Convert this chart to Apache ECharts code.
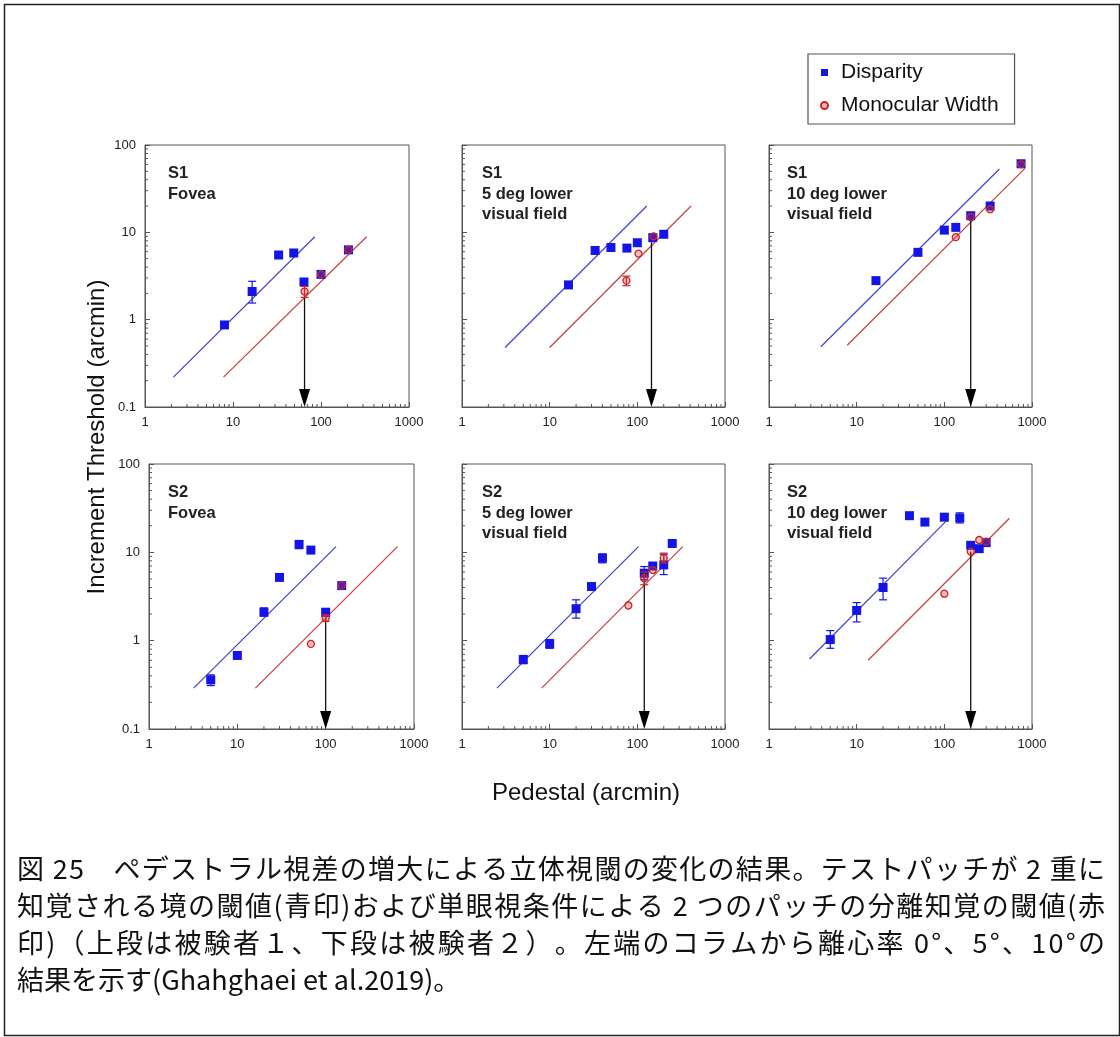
<!DOCTYPE html>
<html><head><meta charset="utf-8">
<script src="https://cdn.jsdelivr.net/npm/echarts@6/dist/echarts.min.js"></script>
<style>html,body{margin:0;padding:0;background:#fff}#c{width:1120px;height:1037px}</style>
</head><body><div id="c"></div>
<script>
// ---------- data ----------
const xTickLabels = ['1', '10', '100', '1000'];
const yTickLabels = ['0.1', '1', '10', '100'];
const panelTitles = [
  ['S1', 'Fovea'], ['S1', '5 deg lower', 'visual field'], ['S1', '10 deg lower', 'visual field'],
  ['S2', 'Fovea'], ['S2', '5 deg lower', 'visual field'], ['S2', '10 deg lower', 'visual field']
];
// [pedestal, threshold]
const s1FoveaDisparity = [[8, 0.87], [16.5, 2.1], [33, 5.5], [49, 5.8], [64, 2.7], [100, 3.3], [205, 6.3]];
const s1FoveaMonocular = [[65, 2.1], [100, 3.3], [205, 6.3]];
const s1Ecc5Disparity = [[16.4, 2.5], [33, 6.2], [50, 6.7], [76, 6.6], [100, 7.6], [150, 8.7], [200, 9.5]];
const s1Ecc5Monocular = [[75, 2.8], [103, 5.7], [153, 9.0]];
const s1Ecc10Disparity = [[16.6, 2.8], [50, 5.9], [100, 10.6], [135, 11.4], [200, 15.5], [333, 20], [750, 61]];
const s1Ecc10Monocular = [[135, 8.8], [200, 15], [333, 18.4], [750, 60]];
const s2FoveaDisparity = [[5, 0.36], [10, 0.68], [20, 2.1], [30, 5.2], [50, 12.3], [68, 10.6], [100, 2.1], [152, 4.2]];
const s2FoveaMonocular = [[68, 0.92], [100, 1.8], [152, 4.2]];
const s2Ecc5Disparity = [[5, 0.61], [10, 0.92], [20, 2.3], [30, 4.1], [40, 8.6], [120, 5.8], [150, 7.0], [200, 7.2], [250, 12.6]];
const s2Ecc5Monocular = [[79, 2.5], [120, 5.1], [150, 6.3], [200, 8.6]];
const s2Ecc10Disparity = [[5, 1.03], [10, 2.2], [20, 4.0], [40, 26], [60, 22], [100, 25], [150, 24.5], [200, 12], [250, 11], [300, 12.9]];
const s2Ecc10Monocular = [[100, 3.4], [200, 10.2], [250, 13.8], [300, 13.2]];
// error bars [pedestal, low, high]
const s1FoveaDispErr = [[16.5, 1.55, 2.75]];
const s1FoveaMonoErr = [[65, 1.8, 2.4]];
const s1Ecc5DispErr = [];
const s1Ecc5MonoErr = [[75, 2.45, 3.15]];
const s1Ecc10DispErr = [[50, 5.5, 6.3]];
const s1Ecc10MonoErr = [];
const s2FoveaDispErr = [[5, 0.31, 0.41], [20, 1.9, 2.35], [50, 11, 13.5], [100, 1.9, 2.3]];
const s2FoveaMonoErr = [[100, 1.65, 1.95]];
const s2Ecc5DispErr = [[5, 0.55, 0.68], [10, 0.82, 1.03], [20, 1.8, 2.9], [40, 7.6, 9.6], [120, 4.9, 6.9], [200, 5.6, 9.5]];
const s2Ecc5MonoErr = [[120, 4.3, 6.0], [200, 7.6, 9.8]];
const s2Ecc10DispErr = [[5, 0.82, 1.3], [10, 1.63, 2.7], [20, 2.9, 5.1], [100, 23, 27], [150, 21.5, 28]];
const s2Ecc10MonoErr = [];
// fitted lines (endpoints)
const s1FoveaDispFit = [[2.1, 0.22], [85, 8.9]];
const s1FoveaMonoFit = [[7.8, 0.22], [330, 8.9]];
const s1Ecc5DispFit = [[3.1, 0.48], [128, 20]];
const s1Ecc5MonoFit = [[10, 0.48], [410, 20]];
const s1Ecc10DispFit = [[3.9, 0.49], [425, 53]];
const s1Ecc10MonoFit = [[7.8, 0.51], [830, 54]];
const s2FoveaDispFit = [[3.2, 0.29], [131, 11.6]];
const s2FoveaMonoFit = [[16, 0.29], [650, 11.6]];
const s2Ecc5DispFit = [[2.5, 0.29], [103, 11.6]];
const s2Ecc5MonoFit = [[8.1, 0.29], [330, 11.6]];
const s2Ecc10DispFit = [[2.9, 0.62], [111, 23.9]];
const s2Ecc10MonoFit = [[13.5, 0.6], [553, 24.3]];
// arrows [pedestal, threshold at start]
const arrowStarts = [[65, 1.9], [145, 8.7], [200, 14], [100, 1.8], [120, 5.0], [200, 10.2]];
const captionLines = [
  '図 25　ペデストラル視差の増大による立体視閾の変化の結果。テストパッチが 2 重に',
  '知覚される境の閾値(青印)および単眼視条件による 2 つのパッチの分離知覚の閾値(赤',
  '印)（上段は被験者１、下段は被験者２）。左端のコラムから離心率 0°、5°、10°の',
  '結果を示す(Ghahghaei et al.2019)。'
];

const dispData = [s1FoveaDisparity, s1Ecc5Disparity, s1Ecc10Disparity, s2FoveaDisparity, s2Ecc5Disparity, s2Ecc10Disparity];
const monoData = [s1FoveaMonocular, s1Ecc5Monocular, s1Ecc10Monocular, s2FoveaMonocular, s2Ecc5Monocular, s2Ecc10Monocular];
const dispErr = [s1FoveaDispErr, s1Ecc5DispErr, s1Ecc10DispErr, s2FoveaDispErr, s2Ecc5DispErr, s2Ecc10DispErr];
const monoErr = [s1FoveaMonoErr, s1Ecc5MonoErr, s1Ecc10MonoErr, s2FoveaMonoErr, s2Ecc5MonoErr, s2Ecc10MonoErr];
const dispFit = [s1FoveaDispFit, s1Ecc5DispFit, s1Ecc10DispFit, s2FoveaDispFit, s2Ecc5DispFit, s2Ecc10DispFit];
const monoFit = [s1FoveaMonoFit, s1Ecc5MonoFit, s1Ecc10MonoFit, s2FoveaMonoFit, s2Ecc5MonoFit, s2Ecc10MonoFit];

// ---------- layout ----------
const grids = [
  {left: 145, top: 145, width: 264, height: 262},
  {left: 462, top: 145, width: 263, height: 262},
  {left: 769, top: 145, width: 263, height: 262},
  {left: 149, top: 464, width: 265, height: 265},
  {left: 462, top: 464, width: 263, height: 265},
  {left: 769, top: 464, width: 263, height: 265}
];
const titleX = [168, 482, 787, 168, 482, 787];
const FONT = '"Liberation Sans", Arial, Helvetica, sans-serif';
const CJK = '"Noto Sans CJK JP", "Noto Sans CJK SC", sans-serif';
const BLUE = '#1414e6';
const RED = '#cc2424';
const AXC = '#555';

// minor tick positions (axis decoration)
const minorX = [], minorY = [];
[1, 10, 100].forEach(d => { for (let k = 2; k <= 9; k++) minorX.push([k * d, 0.1, 0]); });
[0.1, 1, 10].forEach(d => { for (let k = 2; k <= 9; k++) minorY.push([1, +(k * d).toFixed(3), 1]); });

function errRender(color) {
  return function (params, api) {
    const x = api.value(0);
    const a = api.coord([x, api.value(1)]);
    const b = api.coord([x, api.value(2)]);
    const w = 4;
    const st = {stroke: color, lineWidth: 1.2};
    return {type: 'group', children: [
      {type: 'line', shape: {x1: a[0], y1: a[1], x2: b[0], y2: b[1]}, style: st},
      {type: 'line', shape: {x1: a[0] - w, y1: a[1], x2: a[0] + w, y2: a[1]}, style: st},
      {type: 'line', shape: {x1: b[0] - w, y1: b[1], x2: b[0] + w, y2: b[1]}, style: st}
    ]};
  };
}
function tickRender(params, api) {
  const isY = api.value(2) === 1;
  const p = api.coord([api.value(0), api.value(1)]);
  const len = 3;
  const shape = isY ? {x1: p[0], y1: p[1], x2: p[0] + len, y2: p[1]} : {x1: p[0], y1: p[1], x2: p[0], y2: p[1] - len};
  return {type: 'line', shape, style: {stroke: AXC, lineWidth: 1}};
}
function arrowRender(params, api) {
  const x = api.value(0);
  const a = api.coord([x, api.value(1)]);
  const b = api.coord([x, 0.1]);
  const h = 18, w = 11;
  return {type: 'group', children: [
    {type: 'line', shape: {x1: a[0], y1: a[1], x2: b[0], y2: b[1] - h + 2}, style: {stroke: '#111', lineWidth: 1.3}},
    {type: 'polygon', shape: {points: [[b[0] - w / 2, b[1] - h], [b[0] + w / 2, b[1] - h], [b[0], b[1]]]}, style: {fill: '#000'}}
  ]};
}

const xAxes = [], yAxes = [], series = [], graphics = [];
grids.forEach((g, i) => {
  xAxes.push({
    type: 'log', logBase: 10, min: 1, max: 1000, gridIndex: i,
    axisLine: {lineStyle: {color: AXC, width: 1}},
    axisTick: {inside: true, length: 5, lineStyle: {color: AXC}},
    axisLabel: {fontSize: 13, color: '#222', fontFamily: FONT, margin: 9,
      formatter: v => xTickLabels[Math.round(Math.log10(v))]},
    splitLine: {show: false}
  });
  yAxes.push({
    type: 'log', logBase: 10, min: 0.1, max: 100, gridIndex: i,
    axisLine: {lineStyle: {color: AXC, width: 1}},
    axisTick: {inside: true, length: 5, lineStyle: {color: AXC}},
    axisLabel: {show: i === 0 || i === 3, fontSize: 13, color: '#222', fontFamily: FONT, margin: 9,
      formatter: v => yTickLabels[Math.round(Math.log10(v)) + 1]},
    splitLine: {show: false}
  });
  const ax = {xAxisIndex: i, yAxisIndex: i};
  series.push(Object.assign({type: 'custom', renderItem: tickRender, data: minorX.concat(minorY), silent: true, z: 1}, ax));
  series.push(Object.assign({type: 'line', data: dispFit[i], symbol: 'none', lineStyle: {color: '#4848c8', width: 1.3}, silent: true, z: 2}, ax));
  series.push(Object.assign({type: 'line', data: monoFit[i], symbol: 'none', lineStyle: {color: '#c84444', width: 1.3}, silent: true, z: 2}, ax));
  series.push(Object.assign({type: 'custom', renderItem: arrowRender, data: [arrowStarts[i]], silent: true, z: 3}, ax));
  series.push(Object.assign({type: 'custom', renderItem: errRender(BLUE), data: dispErr[i], silent: true, z: 4}, ax));
  series.push(Object.assign({name: 'Disparity', type: 'scatter', data: dispData[i], symbol: 'rect', symbolSize: 9,
    itemStyle: {color: BLUE, opacity: 1}, z: 5}, ax));
  series.push(Object.assign({type: 'custom', renderItem: errRender(RED), data: monoErr[i], silent: true, z: 6}, ax));
  series.push(Object.assign({name: 'Monocular Width', type: 'scatter', data: monoData[i], symbol: 'circle', symbolSize: 7,
    itemStyle: {color: 'rgba(220,50,50,0.32)', borderColor: RED, borderWidth: 1.3, opacity: 1}, z: 7}, ax));
  // panel title
  panelTitles[i].forEach((t, k) => {
    graphics.push({type: 'text', left: titleX[i], top: g.top + 20 + k * 20.5,
      style: {text: t, font: 'bold 16.5px ' + FONT, fill: '#222'}});
  });
});

graphics.push({type: 'rect', left: 2, top: 2, shape: {width: 1115, height: 1031}, style: {fill: 'none', stroke: '#222', lineWidth: 1.5}, z: 0});
graphics.push({type: 'text', x: 97, y: 437, rotation: Math.PI / 2,
  style: {text: 'Increment Threshold (arcmin)', font: '24px ' + FONT, fill: '#111', textAlign: 'center', textVerticalAlign: 'middle'}});
graphics.push({type: 'text', x: 586, y: 793,
  style: {text: 'Pedestal (arcmin)', font: '24px ' + FONT, fill: '#111', textAlign: 'center', textVerticalAlign: 'middle'}});

// caption: justified lines (first three), natural last line
const capFont = '27px ' + CJK;
const mctx = document.createElement('canvas').getContext('2d');
mctx.font = capFont;
const capLeft = 17, capRight = 1105;
captionLines.forEach((line, k) => {
  const y = 869 + k * 37;
  if (k === captionLines.length - 1) {
    graphics.push({type: 'text', x: capLeft, y,
      style: {text: line, font: capFont, fill: '#111', textAlign: 'left', textVerticalAlign: 'middle'}});
    return;
  }
  const chars = Array.from(line);
  const widths = chars.map(c => mctx.measureText(c).width);
  const total = widths.reduce((s, w) => s + w, 0);
  const extra = (capRight - capLeft - total) / (chars.length - 1);
  let x = capLeft;
  const children = [];
  chars.forEach((c, j) => {
    if (c.trim()) children.push({type: 'text', x, y, style: {text: c, font: capFont, fill: '#111', textAlign: 'left', textVerticalAlign: 'middle'}});
    x += widths[j] + extra;
  });
  graphics.push({type: 'group', children});
});

const chart = echarts.init(document.getElementById('c'), null, {renderer: 'canvas'});
chart.setOption({
  backgroundColor: '#fff',
  animation: false,
  grid: grids.map(g => Object.assign({show: true, borderColor: AXC, borderWidth: 1, backgroundColor: 'transparent'}, g)),
  xAxis: xAxes,
  yAxis: yAxes,
  legend: {
    data: [{name: 'Disparity', icon: 'rect'}, {name: 'Monocular Width', icon: 'circle'}],
    orient: 'vertical', left: 808, top: 54, padding: [8, 16, 8, 12], itemGap: 12,
    itemWidth: 7, itemHeight: 7, borderColor: '#555', borderWidth: 1.2, borderRadius: 0,
    textStyle: {fontSize: 21, color: '#111', fontFamily: FONT, padding: [0, 0, 0, 8]}, selectedMode: false
  },
  graphic: graphics,
  series: series
});
</script></body></html>
